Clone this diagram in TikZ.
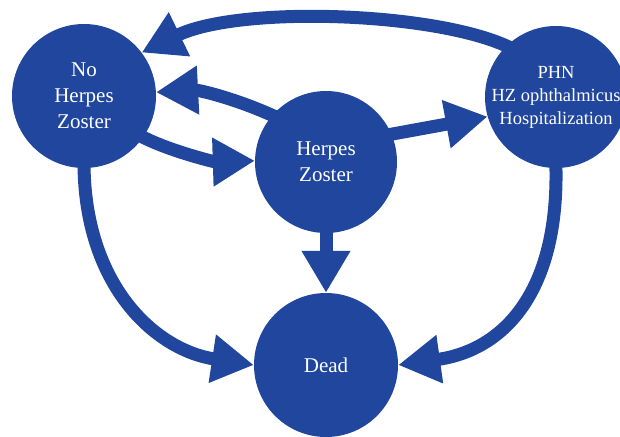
\documentclass[tikz,border=0pt]{standalone}
\usepackage{fontspec}
\setmainfont{Liberation Serif}
\usetikzlibrary{arrows.meta}
\definecolor{hzblue}{RGB}{32,70,158}
\begin{document}
\begin{tikzpicture}[x=1pt,y=-1pt,
  state/.style={circle, fill=hzblue, minimum size=144pt, inner sep=0pt,
    text=white, align=center, font=\fontsize{21}{26}\selectfont},
  smalltext/.style={font=\fontsize{18.5}{23}\selectfont},
  flow/.style={draw=hzblue, line width=13pt, shorten <=-6pt,
    -{Triangle[length=42pt,width=46pt]}}]
\useasboundingbox (0,0) rectangle (620,436);
\node[state] (nohz) at (84,96) {No\\Herpes\\Zoster};
\node[state, minimum size=142pt] (hz) at (326,162) {Herpes\\Zoster};
\node[state, minimum size=142pt, smalltext] (phn) at (556,97)
  {\makebox[0pt]{\raisebox{3.5pt}{\begin{tabular}{@{}c@{}}PHN\\HZ ophthalmicus\\Hospitalization\end{tabular}}}};
\node[state] (dead) at (326,365) {Dead};
\draw[flow] (phn.134) .. controls (440,12) and (240,5) .. (nohz.37);
\draw[flow] (hz.139) .. controls (240,100) and (200,90) .. (nohz.3);
\draw[flow] (nohz.-35) .. controls (165,150) and (215,162) .. (hz.179);
\draw[flow] (hz.23) -- (phn.196);
\draw[flow] (hz) -- (dead);
\draw[flow] (nohz.270) .. controls (84,285) and (155,350) .. (dead.180);
\draw[flow] (phn.270) .. controls (560,290) and (505,350) .. (dead.0);
\end{tikzpicture}
\end{document}
